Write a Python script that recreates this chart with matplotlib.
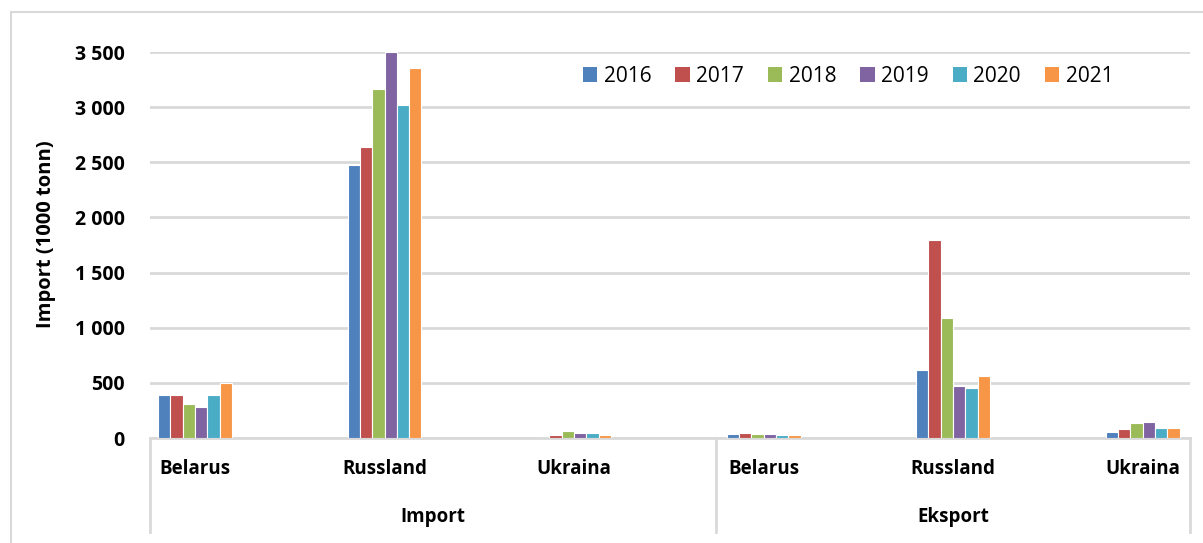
import matplotlib.pyplot as plt
from matplotlib.patches import Patch, Rectangle
from matplotlib.ticker import FuncFormatter, MultipleLocator
import matplotlib.transforms as mtransforms
import numpy as np

# === DATA (1000 tonn) ===
years = ["2016", "2017", "2018", "2019", "2020", "2021"]
countries = ["Belarus", "Russland", "Ukraina", "Belarus", "Russland", "Ukraina"]
groups = ["Import", "Eksport"]

import_belarus = [392, 393, 307, 284, 392, 495]
import_russland = [2473, 2636, 3162, 3500, 3023, 3353]
import_ukraina = [3, 31, 62, 42, 42, 27]
eksport_belarus = [38, 48, 37, 37, 26, 26]
eksport_russland = [618, 1794, 1091, 473, 452, 558]
eksport_ukraina = [57, 79, 133, 142, 92, 92]

colors = ["#4F81BD", "#C0504D", "#9BBB59", "#8064A2", "#4BACC6", "#F79646"]
GRID = "#D9D9D9"

plt.rcParams["font.family"] = ["Open Sans", "DejaVu Sans"]

W, H = 1203, 543
fig = plt.figure(figsize=(W / 100, H / 100), dpi=100)
ax = fig.add_axes([150 / W, 1 - 438 / H, (1190 - 150) / W, (438 - 52) / H])

# outer chart frame
fig.patches.append(Rectangle((11 / W, -0.1), 1.2, 1.1 - 12 / H, transform=fig.transFigure,
                             fill=False, edgecolor=GRID, linewidth=1.5, zorder=0))

# one row per country/direction, one column per year
values = np.array([import_belarus, import_russland, import_ukraina,
                   eksport_belarus, eksport_russland, eksport_ukraina])
x = np.arange(len(countries))
bw = 0.065
for j, (yr, c) in enumerate(zip(years, colors)):
    ax.bar(x + (j - 2.5) * bw, values[:, j], width=bw, color=c,
           edgecolor="white", linewidth=0.8, label=yr, zorder=3)

x_left, x_split, x_right = -0.2375, 2.75, 5.25
ax.set_xlim(x_left, x_right)
ax.set_ylim(0, 3500)
ax.yaxis.set_major_locator(MultipleLocator(500))
ax.yaxis.set_major_formatter(FuncFormatter(lambda v, p: f"{int(v):,}".replace(",", " ")))
ax.grid(axis="y", color=GRID, linewidth=2, zorder=0)
ax.set_axisbelow(True)

for s in ["top", "right", "left"]:
    ax.spines[s].set_visible(False)
ax.spines["bottom"].set_color(GRID)
ax.spines["bottom"].set_linewidth(2)

ax.tick_params(axis="y", length=0, pad=18, labelsize=14)
for t in ax.get_yticklabels():
    t.set_fontweight("bold")

ax.set_xticks(x)
ax.set_xticklabels(countries, fontsize=13.5, fontweight="bold")
ax.tick_params(axis="x", length=0, pad=15)

# group labels and separators below the axis
trans = mtransforms.blended_transform_factory(ax.transData, ax.transAxes)
px = 1 / (438 - 52)
for xs in [x_left, x_split, x_right]:
    ax.plot([xs, xs], [0, -94 * px], transform=trans, color=GRID, linewidth=2,
            clip_on=False, zorder=1)
ax.text((x_left + x_split) / 2, -79 * px, groups[0], transform=trans, ha="center",
        va="center", fontsize=13.5, fontweight="bold")
ax.text((x_split + x_right) / 2, -79 * px, groups[1], transform=trans, ha="center",
        va="center", fontsize=13.5, fontweight="bold")

fig.text(46 / W, 1 - 234 / H, "Import (1000 tonn)", rotation=90, ha="center",
         va="center", fontsize=14.5, fontweight="bold")

handles = [Patch(facecolor=c, edgecolor="none") for c in colors]
fig.legend(handles, years, loc="center left", bbox_to_anchor=(564 / W, 1 - 76 / H),
           ncol=6, frameon=False, fontsize=15, handlelength=0.7, handleheight=0.7,
           handletextpad=0.3, columnspacing=1.15)

fig.savefig("out.png", dpi=100)
